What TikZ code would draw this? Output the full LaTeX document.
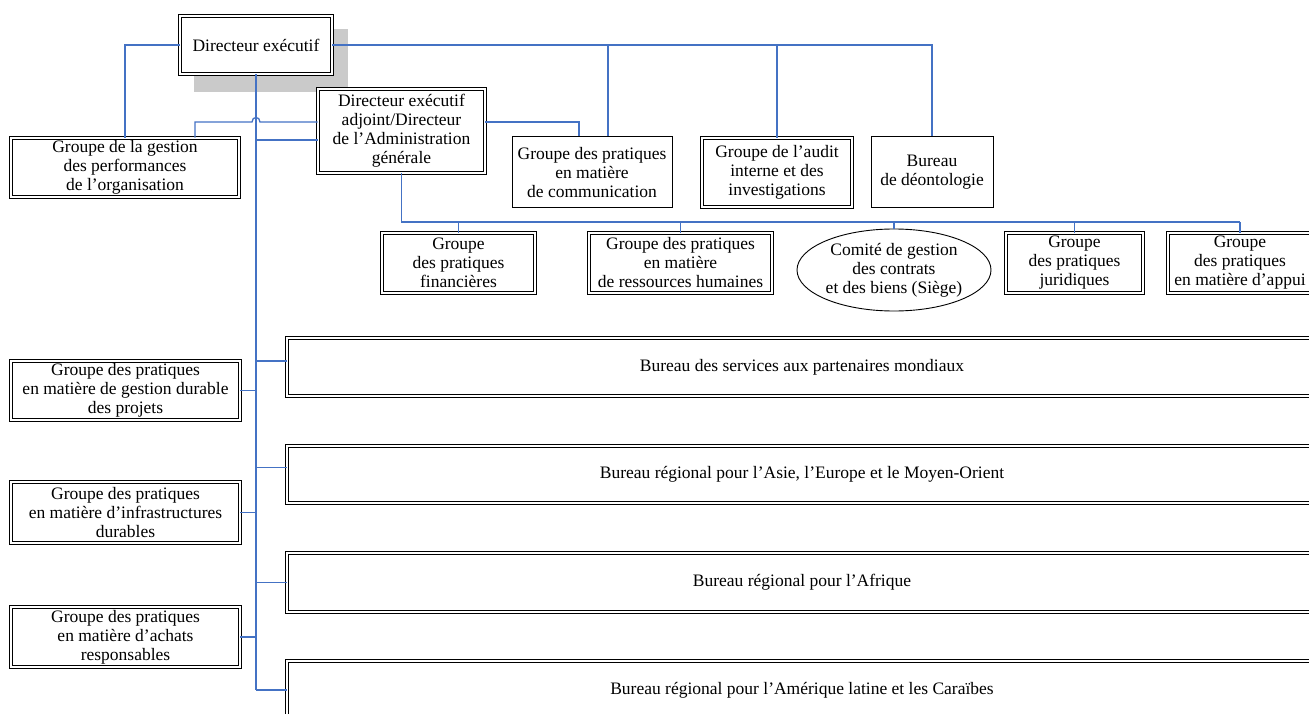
\documentclass[tikz,border=0pt]{standalone}
\usepackage{fontspec}
\setmainfont{Liberation Serif}
\usetikzlibrary{calc,shapes.geometric}
\definecolor{conn}{HTML}{4472C4}
\definecolor{shadecol}{HTML}{CACACA}
\begin{document}
\begin{tikzpicture}[x=1pt,y=-1pt,
  every node/.style={font=\fontsize{17.5}{19}\selectfont, align=center, inner sep=0pt},
  dbox/.style={rectangle, draw=black, line width=0.8pt, double=white, double distance=1.5pt, fill=white},
  sbox/.style={rectangle, draw=black, line width=1pt, fill=white},
  obox/.style={ellipse, draw=black, line width=0.9pt, fill=white},
  link/.style={draw=conn, line width=1.3pt},
  trunk/.style={draw=conn, line width=1.8pt}]
\useasboundingbox (0,0) rectangle (1309,714);
\clip (0,0) rectangle (1309,714);

% shadow of top box
\fill[shadecol] (194,29) rectangle (348,92);

% nodes
\node[dbox, minimum width=152pt, minimum height=58pt] (dir) at (256,45) {Directeur exécutif};
\node[dbox, minimum width=167pt, minimum height=84pt] (dep) at (401.5,131) {Directeur exécutif\\adjoint/Directeur\\de l’Administration\\générale};
\node[dbox, minimum width=228pt, minimum height=59pt] (gest) at (125,167.5) {Groupe de la gestion\\des performances\\de l’organisation};
\node[sbox, minimum width=160pt, minimum height=71pt] (comm) at (592,172.5) {Groupe des pratiques\\en matière\\de communication};
\node[dbox, minimum width=150pt, minimum height=69pt] (audit) at (777,172.5) {Groupe de l’audit\\interne et des\\investigations};
\node[sbox, minimum width=122pt, minimum height=71pt] (bur) at (932,172.5) {Bureau\\de déontologie};

\node[dbox, minimum width=153pt, minimum height=60pt] (fin) at (458.5,263) {Groupe\\des pratiques\\financières};
\node[dbox, minimum width=183pt, minimum height=60pt] (rh) at (680.5,263) {Groupe des pratiques\\en matière\\de ressources humaines};
\node[obox, minimum width=194pt, minimum height=82pt] (cgc) at (894,270) {Comité de gestion\\des contrats\\et des biens (Siège)};
\node[dbox, minimum width=137pt, minimum height=60pt] (jur) at (1074.5,263) {Groupe\\des pratiques\\juridiques};
\node[dbox, minimum width=144pt, minimum height=60pt] (app) at (1240,263) {Groupe\\des pratiques\\en matière d’appui};

\node[dbox, minimum width=229pt, minimum height=59pt] (proj) at (125.5,390.5) {Groupe des pratiques\\en matière de gestion durable\\des projets};
\node[dbox, minimum width=229pt, minimum height=61pt] (infra) at (125.5,512.5) {Groupe des pratiques\\en matière d’infrastructures\\durables};
\node[dbox, minimum width=229pt, minimum height=60pt] (achat) at (125.5,637) {Groupe des pratiques\\en matière d’achats\\responsables};

\node[dbox, minimum width=1030pt, minimum height=58pt] (svc) at (802,367) {Bureau des services aux partenaires mondiaux};
\node[dbox, minimum width=1030pt, minimum height=57pt] (asie) at (802,474.5) {Bureau régional pour l’Asie, l’Europe et le Moyen-Orient};
\node[dbox, minimum width=1030pt, minimum height=59pt] (afr) at (802,582.5) {Bureau régional pour l’Afrique};
\node[dbox, minimum width=1030pt, minimum height=58pt] (amer) at (802,690) {Bureau régional pour l’Amérique latine et les Caraïbes};

% coordinates
\coordinate (depin) at ([yshift=-9pt]dep.west);
\coordinate (depl) at ([yshift=9pt]dep.west);
\coordinate (depr) at ([yshift=9pt]dep.east);
\coordinate (gestr) at ([xshift=70pt]gest.north);
\coordinate (commd) at ([xshift=16pt]comm.north);
\coordinate (comml) at ([xshift=-13pt]comm.north);
\coordinate (bus) at (dep.south |- 0,222);
\coordinate (tbot) at (dir.south |- amer.west);

% connectors from the top box
\draw[link] (dir.west) -| (gest.north);
\draw[link] (dir.east) -| (bur.north);
\draw[link] (commd |- dir.east) -- (commd);
\draw[link] (audit.north |- dir.east) -- (audit.north);

% deputy connectors
\draw[link] (depl) -- ($(depl -| dir.south)+(4,0)$)
  .. controls ($(depl -| dir.south)+(4,-6)$) and ($(depl -| dir.south)+(-4,-6)$) .. ($(depl -| dir.south)+(-4,0)$)
  -| (gestr);
\draw[link] (depr) -| (comml);

% second row bus
\draw[trunk] (dep.south) -- (bus) -- (bus -| app.north);
\draw[link] (bus -| fin.north) -- (fin.north);
\draw[link] (bus -| rh.north) -- (rh.north);
\draw[link] (bus -| cgc.north) -- (cgc.north);
\draw[link] (bus -| jur.north) -- (jur.north);
\draw[link] (bus -| app.north) -- (app.north);

% trunk
\draw[trunk] (dir.south) -- (tbot);
\draw[link] (depin -| dir.south) -- (depin);
\draw[link] (svc.west -| dir.south) |- ([yshift=6pt]svc.west);
\draw[link] (asie.west -| dir.south) |- ([yshift=7pt]asie.west);
\draw[link] (afr.west -| dir.south) -- (afr.west);
\draw[link] (tbot) -- (amer.west);
\draw[link] (proj.east) -- (proj.east -| dir.south);
\draw[link] (infra.east) -- (infra.east -| dir.south);
\draw[link] (achat.east) -- (achat.east -| dir.south);
\end{tikzpicture}
\end{document}
